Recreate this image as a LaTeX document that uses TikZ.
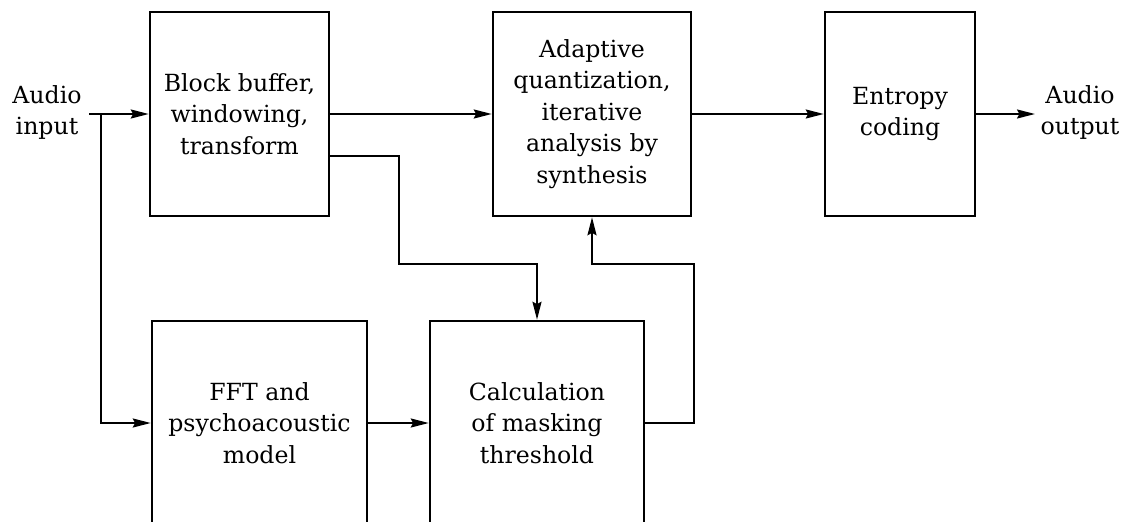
\documentclass[tikz,border=0pt]{standalone}
\usepackage{fontspec}
\setmainfont{DejaVu Serif}
\usepackage{tikz}
\usetikzlibrary{arrows.meta,positioning}

\begin{document}
\begin{tikzpicture}[x=0.5pt,y=0.5pt,
      blk/.style={draw, line width=1.25pt, minimum height=102pt, align=center,
        font=\fontsize{11.8}{15.8}\selectfont},
      lbl/.style={align=center, font=\fontsize{11.8}{15.5}\selectfont},
      sig/.style={line width=1pt},
      >={Stealth[length=9pt,width=4.5pt,inset=1.2pt]}]
    \useasboundingbox (0,0) rectangle (1128,521);
    \clip (0,0) rectangle (1128,521);
    % top row
    \node[blk,minimum width=89.5pt] (buf)   at (239.5,407) {Block buffer,\\windowing,\\transform};
    \node[blk,minimum width=99pt]   (quant) at (592,407)   {Adaptive\\quantization,\\iterative\\analysis by\\synthesis};
    \node[blk,minimum width=75pt]   (ent)   at (900,407)   {Entropy\\coding};
    % bottom row
    \node[blk,minimum width=107.5pt] (fft)  at (259.5,98)  {FFT and\\psychoacoustic\\model};
    \node[blk,minimum width=107pt]   (mask) at (537,98)    {Calculation\\of masking\\threshold};
    % in and out
    \node[lbl] (ain)  at (47,409)   {Audio\\input};
    \node[lbl] (aout) at (1080,409) {Audio\\output};
    \coordinate (in)  at (89,407);
    \coordinate (br)  at (101,407);
    \coordinate (out) at (1035,407);
    % connectors
    \draw[sig,->] (in) -- (buf.west);
    \draw[sig,->] (br) |- (fft.west);
    \draw[sig,->] (buf.east) -- (quant.west);
    \draw[sig,->] (quant.east) -- (ent.west);
    \draw[sig,->] (ent.east) -- (out);
    \draw[sig,->] (fft.east) -- (mask.west);
    \draw[sig,->] ([yshift=-21pt]buf.east) -| (399,257) -| (mask.north);
    \draw[sig,->] (mask.east) -| (694,257) -| (quant.south);
  \end{tikzpicture}
\end{document}
